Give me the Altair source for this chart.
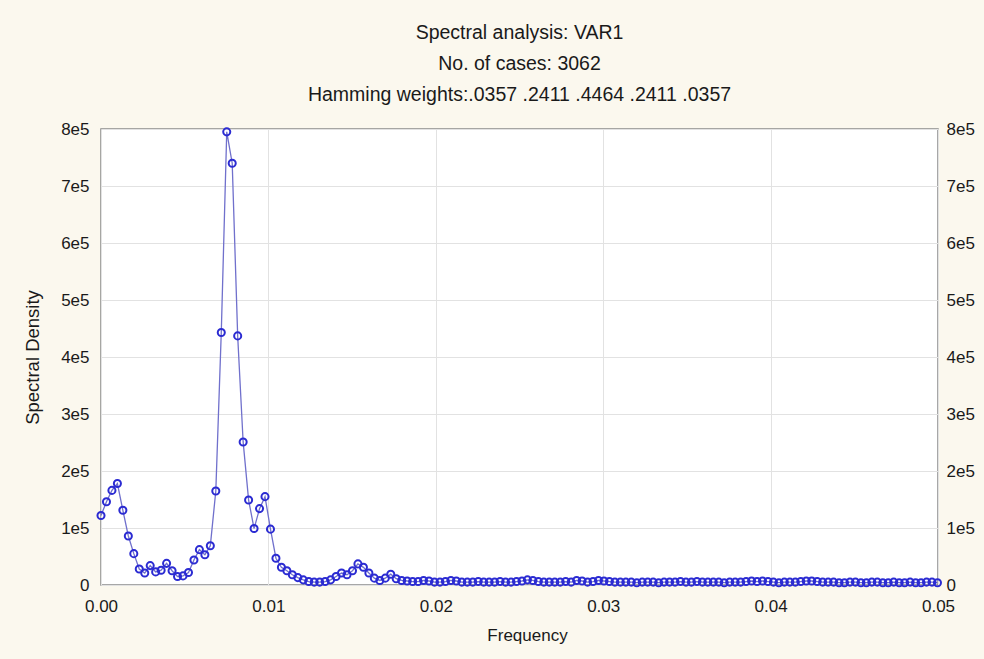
import altair as alt
import pandas as pd

n_cases = 3062
density = [
    122000, 146000, 166000, 178000, 131000, 86000, 55000, 28000, 21000, 34000,
    23000, 26000, 38000, 25000, 15000, 16000, 22000, 44000, 62000, 53000,
    69000, 165000, 443000, 795000, 740000, 437000, 251000, 149000, 99000, 134000,
    155000, 98000, 47000, 31000, 25000, 18000, 13000, 9000, 6000, 5000,
    5000, 6000, 9000, 15000, 21000, 18000, 25000, 37000, 31000, 21000,
    12000, 8000, 12000, 19000, 11000, 8000, 7000, 6000, 6000, 8000,
    7000, 5000, 5000, 6000, 8000, 7000, 5000, 5000, 5000, 6000,
    5000, 5000, 5000, 6000, 5000, 5000, 6000, 7000, 9000, 8000,
    6000, 5000, 5000, 5000, 5000, 6000, 5000, 8000, 7000, 5000,
    6000, 8000, 7000, 6000, 5000, 5000, 5000, 5000, 4000, 5000,
    5000, 5000, 4000, 5000, 5000, 5000, 6000, 5000, 5000, 6000,
    5000, 5000, 5000, 5000, 4000, 5000, 5000, 5000, 6000, 7000,
    6000, 7000, 6000, 5000, 4000, 5000, 5000, 5000, 6000, 7000,
    7000, 6000, 5000, 5000, 5000, 4000, 4000, 5000, 5000, 4000,
    4000, 5000, 5000, 4000, 4000, 5000, 4000, 4000, 5000, 4000,
    4000, 5000, 5000, 4000,
]
frequency = [k / n_cases for k in range(len(density))]

x_ticks = [0.0, 0.01, 0.02, 0.03, 0.04, 0.05]
y_ticks = [0, 100000, 200000, 300000, 400000, 500000, 600000, 700000, 800000]
title_lines = [
    "Spectral analysis: VAR1",
    "No. of cases: 3062",
    "Hamming weights:.0357 .2411 .4464 .2411 .0357",
]

df = pd.DataFrame({"freq": frequency, "density": density})

FONT = "Liberation Sans"
TXT = "#1a1a1a"
y_label_expr = "datum.value == 0 ? '0' : format(datum.value / 100000, 'd') + 'e5'"

x_enc = alt.X(
    "freq:Q",
    scale=alt.Scale(domain=[0, 0.05], nice=False, zero=False),
    axis=alt.Axis(
        values=x_ticks, format=".2f", title="Frequency", grid=True,
        gridColor="#e2e2e2", ticks=False, tickSize=0, domain=False,
        labelPadding=13, titlePadding=13, labelFontSize=17, titleFontSize=17,
        titleFontWeight="normal", labelColor=TXT, titleColor=TXT,
        labelFont=FONT, titleFont=FONT, labelFlush=False, titleX=426,
    ),
)

base = alt.Chart(df)

line = base.mark_line(color="#7070CC", strokeWidth=1.3).encode(
    x=x_enc,
    y=alt.Y(
        "density:Q",
        scale=alt.Scale(domain=[0, 800000], nice=False),
        axis=alt.Axis(
            values=y_ticks, labelExpr=y_label_expr, title="Spectral Density",
            grid=True, gridColor="#e2e2e2", ticks=False, tickSize=0, domain=False,
            labelPadding=12, titlePadding=18, labelFontSize=17, titleFontSize=18.5,
            titleFontWeight="normal", labelColor=TXT, titleColor=TXT,
            labelFont=FONT, titleFont=FONT, labelFlush=False,
        ),
    ),
)

points = base.mark_point(
    shape="circle", filled=False, color="#2B2BD2", size=50, strokeWidth=2, opacity=1
).encode(
    x=x_enc,
    y=alt.Y(
        "density:Q",
        scale=alt.Scale(domain=[0, 800000], nice=False),
        axis=alt.Axis(
            values=y_ticks, labelExpr=y_label_expr, title=None, orient="right",
            grid=False, ticks=False, tickSize=0, domain=False, labelPadding=8,
            labelFontSize=17, labelColor=TXT, labelFont=FONT, labelFlush=False,
        ),
    ),
)

chart = (
    alt.layer(line, points)
    .resolve_scale(y="independent")
    .properties(
        width=837,
        height=456,
        autosize=alt.AutoSizeParams(type="none"),
        padding={"left": 101, "top": 129, "right": 46, "bottom": 74},
        background="#FBF8EE",
        title=alt.TitleParams(
            text=title_lines, anchor="middle", fontSize=19.5, font=FONT,
            fontWeight="normal", color=TXT, lineHeight=31, offset=15,
        ),
    )
    .configure_view(fill="white", stroke="#8a8a8a", strokeWidth=1.5)
)

chart.save("out.html", embed_options={"renderer": "svg", "actions": False})
